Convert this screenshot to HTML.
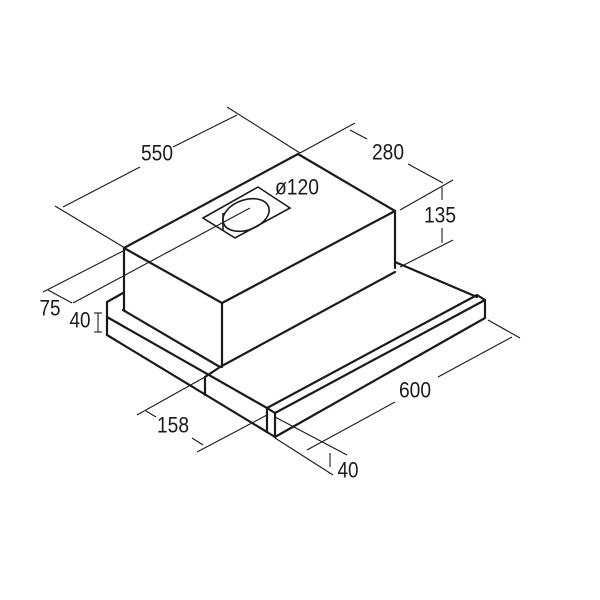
<!DOCTYPE html>
<html><head><style>
html,body{margin:0;padding:0;background:#fff;}
svg{display:block;}
text{font-family:"Liberation Sans Narrow","Liberation Sans",sans-serif;font-size:22px;fill:#1a1a1a;text-anchor:middle;dominant-baseline:central;}
</style></head><body>
<svg width="600" height="600" viewBox="0 0 600 600">
<g fill="none" stroke="#1a1a1a" stroke-width="2.2" stroke-linejoin="round" stroke-linecap="round">
<polygon points="298,154 395,211 222,303 124,248"/>
<line x1="124" y1="248" x2="124" y2="310"/>
<line x1="222" y1="303" x2="222" y2="367"/>
<line x1="395" y1="211" x2="395" y2="268"/>
<line x1="123" y1="310" x2="220" y2="367"/>
<line x1="220" y1="367" x2="395" y2="272"/>
<line x1="395" y1="262" x2="477" y2="297"/>
<polyline points="123,293 107,302 107,335"/>
<line x1="107" y1="317" x2="267" y2="408"/>
<line x1="107" y1="335" x2="267" y2="432"/>
<line x1="205" y1="377" x2="205" y2="395"/>
<line x1="205" y1="377" x2="220" y2="367"/>
<polyline points="267,408 477,295 485,300 485,318 275,437 267,432 267,408"/>
<line x1="275" y1="413" x2="485" y2="300"/>
<line x1="275" y1="413" x2="275" y2="437"/>
<line x1="267" y1="408" x2="275" y2="413"/>
</g>
<g fill="none" stroke="#1a1a1a" stroke-width="1.6">
<polygon points="203,218 258,187 290,208 235,238"/>
<ellipse cx="246" cy="215" rx="24" ry="15" transform="rotate(-20 246 215)"/>
<line x1="223" y1="213" x2="223" y2="230"/>
</g>
<g fill="none" stroke="#1a1a1a" stroke-width="1.1">
<line x1="55" y1="206" x2="125" y2="248"/>
<line x1="63" y1="207" x2="140" y2="167"/>
<line x1="173" y1="147" x2="237" y2="115"/>
<line x1="227" y1="107" x2="300" y2="153"/>
<line x1="300" y1="153" x2="355" y2="123"/>
<line x1="350" y1="130" x2="367" y2="139"/>
<line x1="408" y1="164" x2="443" y2="183"/>
<line x1="400" y1="210" x2="453" y2="180"/>
<line x1="442" y1="187" x2="442" y2="200"/>
<line x1="442" y1="228" x2="442" y2="243"/>
<line x1="400" y1="267" x2="453" y2="240"/>
<line x1="43" y1="292" x2="125" y2="250"/>
<line x1="73" y1="303" x2="250" y2="208"/>
<line x1="48" y1="290" x2="72" y2="303"/>
<line x1="98" y1="313" x2="98" y2="332"/>
<line x1="94" y1="313" x2="102" y2="313"/>
<line x1="94" y1="332" x2="102" y2="332"/>
<line x1="488" y1="320" x2="520" y2="338"/>
<line x1="512" y1="337" x2="438" y2="377"/>
<line x1="395" y1="402" x2="307" y2="450"/>
<line x1="275" y1="417" x2="347" y2="455"/>
<line x1="275" y1="438" x2="333" y2="475"/>
<line x1="330" y1="453" x2="330" y2="467"/>
<line x1="137" y1="415" x2="205" y2="377"/>
<line x1="146" y1="411" x2="156" y2="417"/>
<line x1="197" y1="452" x2="267" y2="415"/>
<line x1="192" y1="438" x2="203" y2="445"/>
</g>
<text x="157" y="153" textLength="32" lengthAdjust="spacingAndGlyphs">550</text>
<text x="297" y="187" textLength="44" lengthAdjust="spacingAndGlyphs">ø120</text>
<text x="388" y="152" textLength="32" lengthAdjust="spacingAndGlyphs">280</text>
<text x="440" y="215" textLength="32" lengthAdjust="spacingAndGlyphs">135</text>
<text x="50" y="308" textLength="21" lengthAdjust="spacingAndGlyphs">75</text>
<text x="80" y="320" textLength="21" lengthAdjust="spacingAndGlyphs">40</text>
<text x="415" y="390" textLength="32" lengthAdjust="spacingAndGlyphs">600</text>
<text x="173" y="425" textLength="32" lengthAdjust="spacingAndGlyphs">158</text>
<text x="348" y="470" textLength="21" lengthAdjust="spacingAndGlyphs">40</text>
</svg>
</body></html>
